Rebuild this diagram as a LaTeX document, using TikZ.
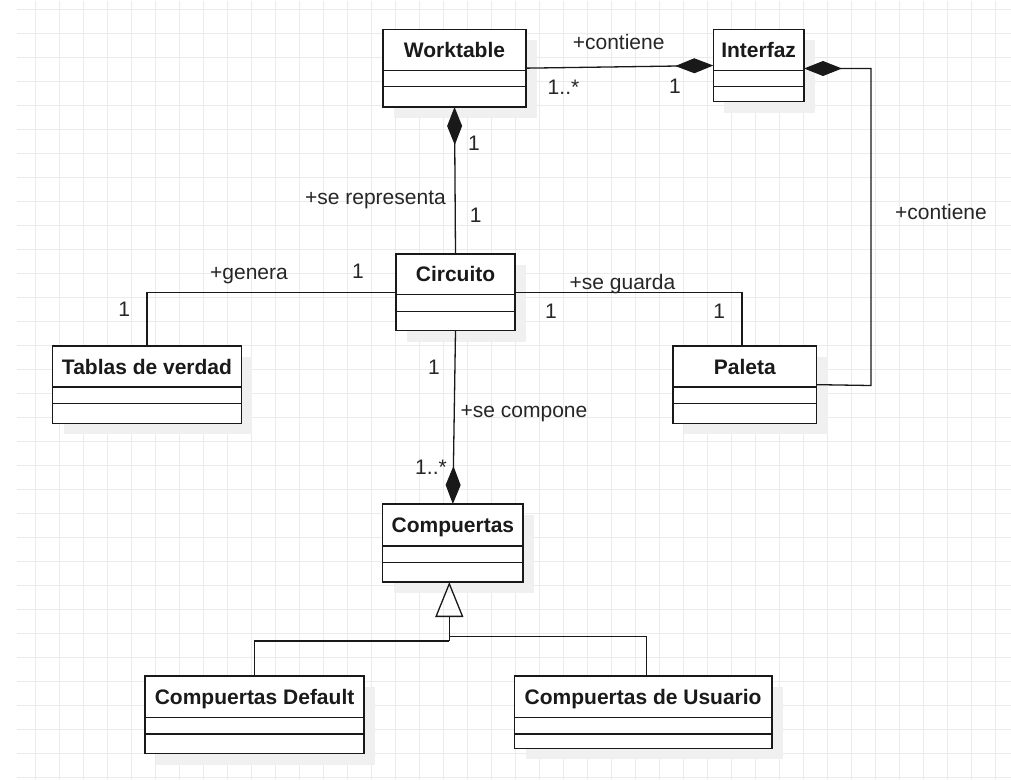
\documentclass[tikz,border=0pt]{standalone}
\usepackage{fontspec}
\setmainfont{Liberation Sans}
\usetikzlibrary{arrows.meta}
\definecolor{gridc}{HTML}{EBEBEB}
\definecolor{shadowc}{HTML}{F0F0F0}
\definecolor{txtc}{HTML}{1A1A1A}
\definecolor{lblc}{HTML}{262626}
\tikzset{
  boxline/.style={draw=black!90, line width=1.5pt},
  conn/.style={draw=black!90, line width=1.3pt},
  comp/.style={-{Diamond[length=38pt,width=15pt]}},
  gen/.style={-{Triangle[open,length=35pt,width=28pt]}},
  classtxt/.style={font=\fontsize{21}{25}\selectfont\bfseries, text=txtc, inner sep=0pt, text height=15.1pt, text depth=0pt},
  lbl/.style={font=\fontsize{21}{25}\selectfont, text=lblc, inner sep=0pt, text height=15.1pt, text depth=0pt}
}
\newcommand\umlclass[8]{%
  \fill[shadowc] ({#2+11},{#3+11}) rectangle ({#4+11},{#7+11});
  \node[boxline, fill=white, inner sep=0pt, outer sep=0pt, anchor=north west,
        minimum width={#4-#2}, minimum height={#7-#3}] (#1) at (#2,#3) {};
  \node[classtxt] (#1-t) at ({(#2+#4)/2},{(#3+#5)/2}) {#8};
  \draw[boxline] (#2,#5) -- (#4,#5);
  \draw[boxline] (#2,#6) -- (#4,#6);
}
\begin{document}
\begin{tikzpicture}[x=1pt,y=-1pt]
\useasboundingbox (0,0) rectangle (1011,780);
\fill[white] (0,0) rectangle (1011,780);
% grid
\foreach \gx in {35.3,59.3,...,1011} \draw[gridc, line width=1pt] (\gx,1) -- (\gx,780);
\foreach \gy in {9.3,33.3,...,780} \draw[gridc, line width=1pt] (17,\gy) -- (1011,\gy);

% classes
\umlclass{W}{383}{29.3}{526}{70.7}{86.7}{107}{Worktable}
\umlclass{I}{713.3}{29.3}{804}{70.7}{86.7}{101.7}{Interfaz}
\umlclass{C}{396}{254}{515}{294.7}{311.3}{330.7}{Circuito}
\umlclass{T}{52.7}{346}{241.3}{387}{403.7}{423.3}{Tablas de verdad}
\umlclass{P}{673}{346}{816.7}{387}{403.7}{423.3}{Paleta}
\umlclass{G}{382.7}{504}{523}{546}{562.7}{582}{Compuertas}
\umlclass{D}{145.2}{676}{364}{717.3}{734}{753.7}{Compuertas Default}
\umlclass{U}{514.5}{676}{771.8}{717.3}{734}{748.3}{Compuertas de Usuario}

% connectors
\draw[conn, comp] (W.east) -- (I.west);
\coordinate (r1) at (871,68.5);
\coordinate (r2) at (871,385.5);
\draw[conn, comp] (P.east) -- (r2) -- (r1) -- ([yshift=-3pt]I.east);
\draw[conn, comp] (C.north) -- (W.south);
\draw[conn] (C.west) -| (T.north);
\draw[conn] (C.east) -| ([xshift=-3pt]P.north);
\draw[conn, comp] (C.south) -- (G.north);
\coordinate (gt) at (449.3,582);
\coordinate (gb) at (449.3,617);
\coordinate (gd) at (449.3,641);
\coordinate (gu) at (449.3,636.3);
\draw[conn, gen] (gd) -- (gt);
\draw[conn] (D.north) |- (gd);
\draw[conn] (gu) -| ([xshift=3pt]U.north);

% labels
\node[lbl] (l1) at (618.7,41.7) {+contiene};
\node[lbl] (l2) at (563.5,86.7) {1..*};
\node[lbl] (l3) at (675,85.5) {1};
\node[lbl] (l4) at (941,212) {+contiene};
\node[lbl] (l5) at (474,143.3) {1};
\node[lbl] (l6) at (475.7,215) {1};
\node[lbl, anchor=east] (l7) at (446,197.3) {+se representa};
\node[lbl] (l8) at (249,272) {+genera};
\node[lbl] (l9) at (358,270.7) {1};
\node[lbl] (l10) at (124.3,308.5) {1};
\node[lbl] (l11) at (622.5,281.7) {+se guarda};
\node[lbl] (l12) at (551,310.7) {1};
\node[lbl] (l13) at (719.3,310.7) {1};
\node[lbl] (l14) at (434,367) {1};
\node[lbl] (l15) at (524,409.5) {+se compone};
\node[lbl] (l16) at (431,466.7) {1..*};
\end{tikzpicture}
\end{document}
